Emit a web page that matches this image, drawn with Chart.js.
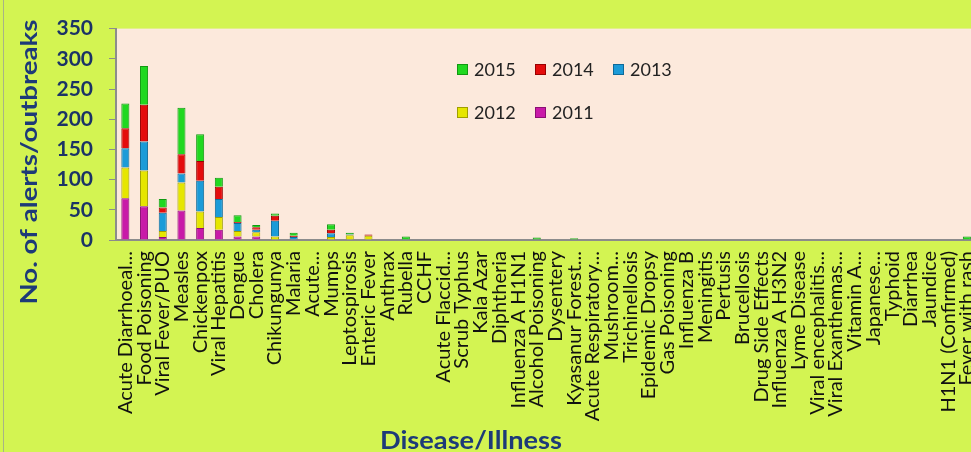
<!DOCTYPE html>
<html>
<head>
<meta charset="utf-8">
<script src="https://cdn.jsdelivr.net/npm/chart.js@4.4.1/dist/chart.umd.min.js"></script>
<style>
  html, body { margin: 0; padding: 0; background: #d3f452; }
  #wrap { position: relative; width: 971px; height: 452px; overflow: hidden; background: #d3f452; }
  #frame { position: absolute; left: 3px; top: 0; width: 1px; height: 452px; background: #a8b486; }
  #legend { position: absolute; left: 457px; top: 60px; display: grid;
            grid-template-columns: repeat(3, 78px); row-gap: 25px;
            font: 18px Lato, sans-serif; color: #222; }
  #legend div { display: flex; align-items: center; height: 18px; }
  #legend span.box { width: 9px; height: 9px; border: 1px solid; margin-right: 6px; }
</style>
</head>
<body>
<div id="wrap">
  <canvas id="chart" width="1002" height="452"></canvas>
  <div id="frame"></div>
  <div id="legend"></div>
</div>
<script>
// categories as shown on the x axis
const diseases = [
  'Acute Diarrhoeal...', 'Food Poisoning', 'Viral Fever/PUO', 'Measles', 'Chickenpox',
  'Viral Hepatitis', 'Dengue', 'Cholera', 'Chikungunya', 'Malaria',
  'Acute...', 'Mumps', 'Leptospirosis', 'Enteric Fever', 'Anthrax',
  'Rubella', 'CCHF', 'Acute Flaccid...', 'Scrub Typhus', 'Kala Azar',
  'Diphtheria', 'Influenza A H1N1', 'Alcohol Poisoning', 'Dysentery', 'Kyasanur Forest...',
  'Acute Respiratory...', 'Mushroom...', 'Trichinellosis', 'Epidemic Dropsy', 'Gas Poisoning',
  'Influenza B', 'Meningitis', 'Pertusis', 'Brucellosis', 'Drug Side Effects',
  'Influenza A H3N2', 'Lyme Disease', 'Viral encephalitis...', 'Viral Exanthemas...', 'Vitamin A...',
  'Japanese...', 'Typhoid', 'Diarrhea', 'Jaundice', 'H1N1 (Confirmed)',
  'Fever with rash'
];

// alerts/outbreaks per year
const cases2011 = [69, 56, 5, 49, 20, 17, 6, 6, 0, 0,
                   0, 1, 0, 0, 0, 0, 0, 0, 0, 0,
                   0, 0, 0, 0, 0, 0, 0, 0, 0, 0,
                   0, 0, 0, 0, 0, 0, 0, 0, 0, 0,
                   0, 0, 0, 0, 0, 0];
const cases2012 = [51, 59, 10, 46, 27, 21, 9, 7, 6, 0,
                   0, 4, 8, 7, 0, 0, 0, 0, 0, 0,
                   0, 0, 0, 0, 0, 0, 0, 0, 0, 0,
                   0, 0, 0, 0, 0, 0, 0, 0, 0, 0,
                   0, 0, 0, 0, 0, 0];
const cases2013 = [32, 48, 30, 15, 51, 30, 13, 4, 26, 5,
                   0, 6, 1, 0, 0, 0, 0, 0, 0, 0,
                   0, 0, 0, 0, 0, 0, 0, 0, 0, 0,
                   0, 0, 0, 0, 0, 0, 0, 0, 0, 0,
                   0, 0, 0, 0, 0, 0];
const cases2014 = [33, 61, 9, 32, 33, 20, 2, 4, 8, 2,
                   0, 6, 0, 2, 0, 0, 0, 0, 0, 0,
                   0, 0, 0, 0, 0, 0, 0, 0, 0, 0,
                   0, 0, 0, 0, 0, 0, 0, 0, 0, 0,
                   0, 0, 0, 0, 0, 0];
const cases2015 = [41, 64, 14, 77, 44, 15, 11, 4, 4, 5,
                   0, 9, 3, 0, 0, 6, 0, 0, 0, 0,
                   0, 0, 4, 0, 3, 0, 0, 0, 0, 0,
                   0, 0, 0, 0, 0, 0, 0, 0, 0, 0,
                   0, 0, 0, 0, 0, 6];

const years = ['2011', '2012', '2013', '2014', '2015'];
const series = [cases2011, cases2012, cases2013, cases2014, cases2015];
const fills = ['#c81aa8', '#e6e600', '#1b9bd8', '#e40c0c', '#20d820'];
const edges = ['#8a0f74', '#9f9f00', '#0e6a99', '#990000', '#119911'];

const yMax = 350;
const yStep = 50;

const plotBg = {
  id: 'plotBg',
  beforeDraw(chart) {
    const { ctx, chartArea: a } = chart;
    ctx.save();
    ctx.fillStyle = '#fce9dc';
    ctx.fillRect(a.left, a.top, a.right - a.left, a.bottom - a.top);
    ctx.restore();
  }
};

// axis titles sit off-centre in the original, so draw them by hand
const axisTitles = {
  id: 'axisTitles',
  afterDraw(chart) {
    const ctx = chart.ctx;
    ctx.save();
    ctx.fillStyle = '#1d3a78';
    ctx.font = 'bold 22px Lato';
    ctx.textBaseline = 'alphabetic';
    ctx.textAlign = 'center';
    let t = 'No. of alerts/outbreaks';
    ctx.translate(37, 162);
    ctx.rotate(-Math.PI / 2);
    ctx.scale(285 / ctx.measureText(t).width, 1);
    ctx.fillText(t, 0, 0);
    ctx.restore();

    ctx.save();
    ctx.fillStyle = '#1d3a78';
    ctx.font = 'bold 24px Lato';
    ctx.textBaseline = 'alphabetic';
    ctx.textAlign = 'left';
    t = 'Disease/Illness';
    ctx.translate(380, 449);
    ctx.scale(182 / ctx.measureText(t).width, 1);
    ctx.fillText(t, 0, 0);
    ctx.restore();
  }
};

const chart = new Chart(document.getElementById('chart'), {
  type: 'bar',
  data: {
    labels: diseases,
    datasets: years.map((y, i) => ({
      label: y,
      data: series[i],
      backgroundColor: fills[i],
      borderColor: edges[i],
      borderWidth: c => (c.raw ? 1 : 0),
      categoryPercentage: 1,
      barPercentage: 0.43
    }))
  },
  options: {
    responsive: false,
    animation: false,
    devicePixelRatio: 1,
    layout: { padding: { top: 20, right: 12, left: 0, bottom: 0 } },
    plugins: { legend: { display: false }, tooltip: { enabled: false } },
    scales: {
      x: {
        stacked: true,
        grid: { display: false, drawTicks: false },
        border: { display: true, color: '#8c8c8c', width: 2 },
        ticks: {
          autoSkip: false, maxRotation: 90, minRotation: 90, padding: 11,
          color: '#111', font: { family: 'Lato', size: 20 }
        },
        afterFit: s => { s.height = 212; }
      },
      y: {
        stacked: true,
        min: 0, max: yMax,
        grid: { drawOnChartArea: false, drawTicks: true, tickLength: 7, color: '#8c8c8c' },
        border: { display: true, color: '#8c8c8c', width: 2 },
        ticks: {
          stepSize: yStep, padding: 16,
          color: '#1b3366', font: { family: 'Lato', size: 21, weight: 'bold' }
        },
        afterFit: s => { s.width = 116; }
      }
    }
  },
  plugins: [plotBg, axisTitles]
});

// legend inside the plot: newest year first, three per row
const legend = document.getElementById('legend');
chart.data.datasets.slice().reverse().forEach(ds => {
  const item = document.createElement('div');
  const box = document.createElement('span');
  box.className = 'box';
  box.style.background = ds.backgroundColor;
  box.style.borderColor = ds.borderColor;
  item.appendChild(box);
  item.appendChild(document.createTextNode(ds.label));
  legend.appendChild(item);
});
</script>
</body>
</html>
